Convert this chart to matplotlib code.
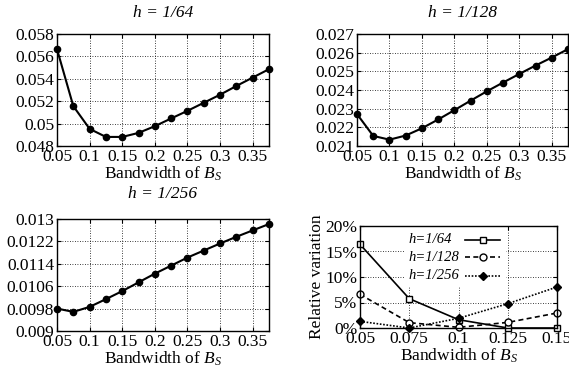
import matplotlib
matplotlib.use("Agg")
import matplotlib.pyplot as plt
from matplotlib.patches import Rectangle
import numpy as np

plt.rcParams['font.family'] = ['Liberation Serif', 'DejaVu Serif']
plt.rcParams['mathtext.fontset'] = 'custom'
plt.rcParams['mathtext.it'] = 'Liberation Serif:italic'
plt.rcParams['mathtext.rm'] = 'Liberation Serif'

# Data
bandwidth = [0.05, 0.075, 0.1, 0.125, 0.15, 0.175, 0.2, 0.225, 0.25, 0.275, 0.3, 0.325, 0.35, 0.375]
err_h64 = [0.05665, 0.05156, 0.04953, 0.04881, 0.04881, 0.04917, 0.04977, 0.05046,
           0.05114, 0.05186, 0.05258, 0.05336, 0.05411, 0.05486]
err_h128 = [0.02271, 0.02154, 0.02134, 0.02156, 0.02195, 0.02242, 0.02292, 0.02343,
            0.02393, 0.02440, 0.02486, 0.02531, 0.02574, 0.02619]
err_h256 = [0.009802, 0.009683, 0.009862, 0.010138, 0.010425, 0.010737, 0.011048, 0.011335,
            0.011623, 0.011874, 0.012126, 0.012365, 0.012593, 0.012820]

rv_bandwidth = [0.05, 0.075, 0.1, 0.125, 0.15]
rv_h64 = [16.4, 5.75, 1.63, 0.0, 0.0]
rv_h128 = [6.6, 1.05, 0.13, 1.1, 2.94]
rv_h256 = [1.3, 0.0, 1.9, 4.77, 8.04]
rv_labels = ["h=1/64", "h=1/128", "h=1/256"]

x_ticks = [0.05, 0.1, 0.15, 0.2, 0.25, 0.3, 0.35]
x_labels = ["0.05", "0.1", "0.15", "0.2", "0.25", "0.3", "0.35"]
y64_ticks = [0.048, 0.05, 0.052, 0.054, 0.056, 0.058]
y64_labels = ["0.048", "0.05", "0.052", "0.054", "0.056", "0.058"]
y128_ticks = [0.021, 0.022, 0.023, 0.024, 0.025, 0.026, 0.027]
y128_labels = ["0.021", "0.022", "0.023", "0.024", "0.025", "0.026", "0.027"]
y256_ticks = [0.009, 0.0098, 0.0106, 0.0114, 0.0122, 0.013]
y256_labels = ["0.009", "0.0098", "0.0106", "0.0114", "0.0122", "0.013"]
rv_x_ticks = [0.05, 0.075, 0.1, 0.125, 0.15]
rv_x_labels = ["0.05", "0.075", "0.1", "0.125", "0.15"]
rv_y_ticks = [0, 5, 10, 15, 20]
rv_y_labels = ["0%", "5%", "10%", "15%", "20%"]

W, H = 569, 373
fig = plt.figure(figsize=(W / 100, H / 100), dpi=100)

def rect(l, r, t, b):
    return [l / W, 1 - b / H, (r - l) / W, (b - t) / H]

FS = 12.5

def style(ax, xt, xl, yt, yl, xlim, ylim):
    ax.set_xlim(*xlim)
    ax.set_ylim(*ylim)
    ax.set_xticks(xt)
    ax.set_xticklabels(xl)
    ax.set_yticks(yt)
    ax.set_yticklabels(yl)
    ax.tick_params(direction='in', top=True, right=True, length=3, width=0.8,
                   labelsize=FS, pad=2)
    ax.set_axisbelow(True)
    ax.grid(True, linestyle=(0, (1, 2)), color='black', linewidth=0.6)
    for s in ax.spines.values():
        s.set_linewidth(1.0)
        s.set_zorder(5)
    ax.set_xlabel("Bandwidth of $B_S$", fontsize=FS, labelpad=0)

line_kw = dict(color='black', linewidth=1.5, marker='o', markersize=4.5, clip_on=False, zorder=3)

ax1 = fig.add_axes(rect(57, 269, 34, 146))
ax1.plot(bandwidth, err_h64, **line_kw)
style(ax1, x_ticks, x_labels, y64_ticks, y64_labels, (0.05, 0.375), (0.048, 0.058))
ax1.set_title("h = 1/64", fontsize=FS, style='italic', pad=12)

ax2 = fig.add_axes(rect(357, 568, 34, 146))
ax2.plot(bandwidth, err_h128, **line_kw)
style(ax2, x_ticks, x_labels, y128_ticks, y128_labels, (0.05, 0.375), (0.021, 0.027))
ax2.set_title("h = 1/128", fontsize=FS, style='italic', pad=12)

ax3 = fig.add_axes(rect(57, 269, 219, 331))
ax3.plot(bandwidth, err_h256, **line_kw)
style(ax3, x_ticks, x_labels, y256_ticks, y256_labels, (0.05, 0.375), (0.009, 0.013))
ax3.set_title("h = 1/256", fontsize=FS, style='italic', pad=15)

ax4 = fig.add_axes(rect(360, 557, 226, 328))
styles = [
    dict(linestyle='-', marker='s', markersize=5, markerfacecolor='white', markeredgewidth=1.0),
    dict(linestyle=(0, (3, 2)), marker='o', markersize=5, markerfacecolor='white', markeredgewidth=1.0),
    dict(linestyle=(0, (1, 1)), marker='D', markersize=4, markerfacecolor='black'),
]
series = [rv_h64, rv_h128, rv_h256]
for vals, st in zip(series, styles):
    ax4.plot(rv_bandwidth, vals, color='black', linewidth=1.2, clip_on=False, zorder=3, **st)
style(ax4, rv_x_ticks, rv_x_labels, rv_y_ticks, rv_y_labels, (0.05, 0.15), (0, 20))
ax4.set_ylabel("Relative variation", fontsize=FS, labelpad=0)

# manual legend (left-aligned labels, sample to the right)
ax4.add_patch(Rectangle((0.23, 0.41), 0.51, 0.59, transform=ax4.transAxes,
                        facecolor='white', edgecolor='none', zorder=2))
rows_y = [0.863, 0.696, 0.51]
for lab, st, yy in zip(rv_labels, styles, rows_y):
    ax4.text(0.244, yy, lab, transform=ax4.transAxes, fontsize=10.5, style='italic',
             ha='left', va='center', zorder=4)
    ax4.plot([0.533, 0.711], [yy, yy], transform=ax4.transAxes, color='black',
             linewidth=1.2, linestyle=st['linestyle'], zorder=4)
    mk = {k: v for k, v in st.items() if k != 'linestyle'}
    ax4.plot([0.622], [yy], transform=ax4.transAxes, color='black', linestyle='none',
             zorder=4, **mk)

fig.savefig("out.png", dpi=100)
